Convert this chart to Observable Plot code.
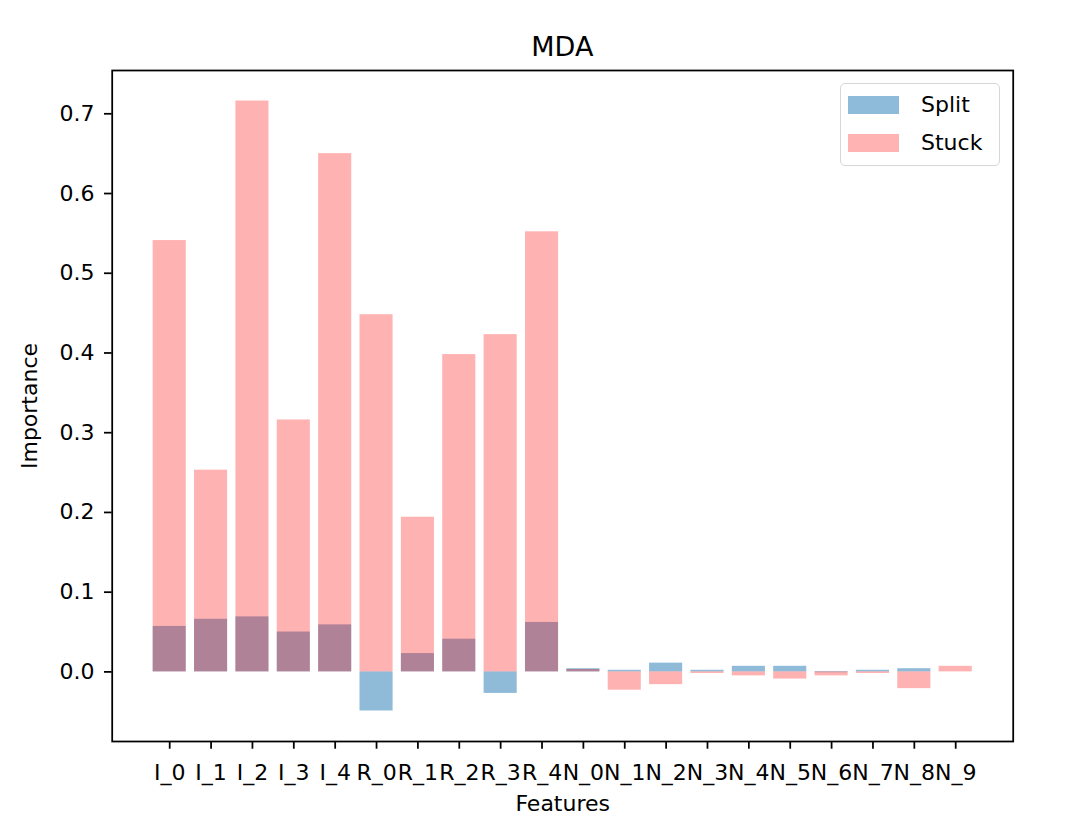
<!DOCTYPE html>
<html>
<head>
<meta charset="utf-8">
<script src="https://cdn.jsdelivr.net/npm/d3@7"></script>
<script src="https://cdn.jsdelivr.net/npm/@observablehq/plot@0.6"></script>
<style>
  body { margin: 0; background: #fff; font-family: "DejaVu Sans", sans-serif; }
  #wrap { position: relative; width: 1076px; height: 834px; overflow: hidden; }
  #title { height: 64px; box-sizing: border-box; padding-top: 33px; padding-left: 111.7px; width: 1013px;
           text-align: center; font-size: 27px; line-height: 27px; color: #000; }
  #legend { position: absolute; left: 840px; top: 83px; width: 158px; height: 81px;
            border: 1.5px solid #d6d6d6; border-radius: 5px; background: rgba(255,255,255,0.8); }
  .lrow { position: absolute; left: 0; height: 22px; display: flex; align-items: center; }
  .patch { width: 51px; height: 18px; margin-left: 7px; margin-right: 22px; }
  .ltxt { font-size: 22px; line-height: 22px; color: #000; }
  svg g[aria-label="x-axis tick"] path, svg g[aria-label="y-axis tick"] path { stroke-width: 1.76; }
</style>
</head>
<body>
<div id="wrap">
  <div id="title">MDA</div>
  <div id="chart"></div>
  <div id="legend"></div>
</div>
<script>
const features = ["I_0","I_1","I_2","I_3","I_4","R_0","R_1","R_2","R_3","R_4",
                  "N_0","N_1","N_2","N_3","N_4","N_5","N_6","N_7","N_8","N_9"];
const splitValues = [0.057,0.066,0.069,0.050,0.059,-0.049,0.023,0.041,-0.027,0.062,
                     0.004,0.002,0.011,0.002,0.007,0.007,-0.001,0.002,0.004,0.0];
const stuckValues = [0.541,0.253,0.716,0.316,0.650,0.448,0.194,0.398,0.423,0.552,
                     0.003,-0.023,-0.016,-0.002,-0.005,-0.009,-0.005,-0.002,-0.021,0.007];
const yTicks = [0,0.1,0.2,0.3,0.4,0.5,0.6,0.7];
const seriesNames = ["Split","Stuck"];
const seriesColors = ["#1f77b4","#ff0000"];
const seriesOpacity = [0.5,0.3];

const splitData = features.map((f,i) => ({feature: f, value: splitValues[i]}));
const stuckData = features.map((f,i) => ({feature: f, value: stuckValues[i]}));

const chart = Plot.plot({
  width: 1076,
  height: 770,
  marginTop: 6,
  marginBottom: 93,
  marginLeft: 111.7,
  marginRight: 63.3,
  style: {fontFamily: "DejaVu Sans", fontSize: "22px", color: "#000", background: "transparent"},
  x: {type: "band", domain: features, paddingInner: 0.2, paddingOuter: 0.99, align: 0.5, round: false,
      label: null, tickSize: 7.7, tickPadding: 15},
  y: {domain: [-0.0873, 0.7543], ticks: yTicks, tickFormat: d3.format(".1f"),
      label: null, tickSize: 7.7, tickPadding: 10},
  marks: [
    Plot.barY(splitData, {x: "feature", y: "value", fill: seriesColors[0], fillOpacity: seriesOpacity[0]}),
    Plot.barY(stuckData, {x: "feature", y: "value", fill: seriesColors[1], fillOpacity: seriesOpacity[1]}),
    Plot.frame({stroke: "#000", strokeWidth: 1.76}),
    Plot.text(["Features"], {frameAnchor: "bottom", dy: 69, fontSize: 22, fill: "#000"}),
    Plot.text(["Importance"], {frameAnchor: "left", textAnchor: "middle", dx: -82, rotate: -90, fontSize: 22, fill: "#000"})
  ]
});
document.getElementById("chart").appendChild(chart);

const legend = document.getElementById("legend");
seriesNames.forEach((name, i) => {
  const row = document.createElement("div");
  row.className = "lrow";
  row.style.top = (i === 0 ? 10 : 48) + "px";
  const c = d3.color(seriesColors[i]);
  const a = seriesOpacity[i];
  const mix = `rgb(${Math.round(c.r*a+255*(1-a))},${Math.round(c.g*a+255*(1-a))},${Math.round(c.b*a+255*(1-a))})`;
  row.innerHTML = `<div class="patch" style="background:${mix}"></div><span class="ltxt">${name}</span>`;
  legend.appendChild(row);
});
</script>
</body>
</html>
